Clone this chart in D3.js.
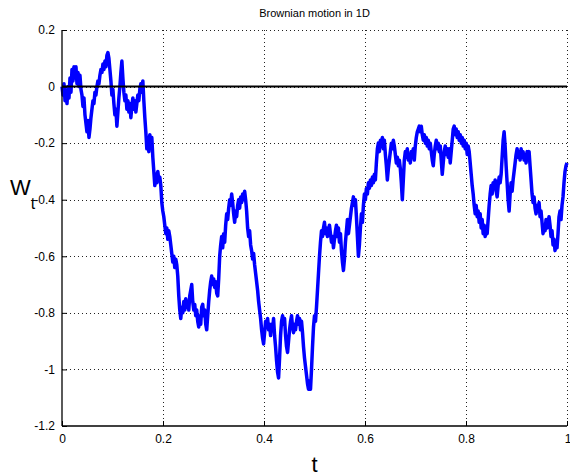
<!DOCTYPE html>
<html lang="en">
<head>
  <meta charset="UTF-8">
  <title>Brownian motion in 1D</title>
  <style>
    body { margin: 0; background: #fff; }
    text { font-family: "Liberation Sans", Arial, sans-serif; }
  </style>
</head>
<body>
  <svg width="570" height="476"></svg>

  <script src="https://d3js.org/d3.v7.min.js"></script>
  <script>
    // W(t), one sample per step (t runs 0..1 evenly)
    const W = [
      0.00,-0.03,0.01,-0.05,-0.02,-0.06,0.00,-0.04,0.03,-0.02,0.06,0.02,0.07,0.03,0.07,0.01,0.05,0.00,0.04,-0.01,
      -0.03,-0.07,-0.04,-0.10,-0.13,-0.16,-0.12,-0.18,-0.15,-0.11,-0.08,-0.05,-0.06,-0.02,-0.03,0.00,0.02,0.01,0.04,0.06,
      0.05,0.08,0.06,0.09,0.07,0.11,0.12,0.10,0.06,0.02,-0.03,-0.01,-0.06,-0.10,-0.08,-0.14,-0.09,-0.04,0.00,0.05,
      0.09,0.03,-0.02,-0.05,-0.03,-0.08,-0.05,-0.09,-0.06,-0.11,-0.07,-0.04,-0.08,-0.05,-0.09,-0.06,-0.03,-0.05,-0.01,0.01,
      -0.02,0.02,-0.05,-0.11,-0.16,-0.22,-0.18,-0.23,-0.17,-0.20,-0.18,-0.25,-0.30,-0.35,-0.31,-0.34,-0.30,-0.33,-0.32,-0.35,
      -0.41,-0.44,-0.46,-0.49,-0.52,-0.50,-0.54,-0.51,-0.53,-0.56,-0.59,-0.62,-0.60,-0.64,-0.61,-0.63,-0.67,-0.74,-0.79,-0.82,
      -0.78,-0.80,-0.76,-0.79,-0.75,-0.78,-0.76,-0.79,-0.74,-0.72,-0.70,-0.76,-0.79,-0.77,-0.81,-0.79,-0.83,-0.85,-0.81,-0.84,
      -0.78,-0.77,-0.81,-0.79,-0.84,-0.86,-0.81,-0.76,-0.72,-0.69,-0.67,-0.70,-0.68,-0.71,-0.69,-0.73,-0.74,-0.68,-0.60,-0.56,
      -0.53,-0.57,-0.52,-0.55,-0.49,-0.45,-0.47,-0.43,-0.40,-0.42,-0.38,-0.41,-0.45,-0.48,-0.44,-0.46,-0.42,-0.40,-0.43,-0.39,
      -0.41,-0.38,-0.40,-0.37,-0.40,-0.44,-0.50,-0.53,-0.51,-0.56,-0.58,-0.61,-0.59,-0.63,-0.66,-0.69,-0.72,-0.76,-0.79,-0.82,
      -0.86,-0.89,-0.91,-0.87,-0.83,-0.85,-0.82,-0.86,-0.84,-0.88,-0.84,-0.86,-0.82,-0.88,-0.92,-0.97,-1.01,-1.03,-0.96,-0.88,
      -0.83,-0.81,-0.84,-0.82,-0.88,-0.92,-0.94,-0.90,-0.86,-0.83,-0.81,-0.85,-0.87,-0.84,-0.86,-0.83,-0.81,-0.84,-0.82,-0.86,
      -0.83,-0.87,-0.92,-0.96,-0.99,-1.02,-1.05,-1.07,-1.04,-1.07,-1.00,-0.92,-0.85,-0.81,-0.83,-0.78,-0.72,-0.66,-0.60,-0.55,
      -0.51,-0.53,-0.50,-0.48,-0.52,-0.50,-0.53,-0.51,-0.49,-0.52,-0.55,-0.53,-0.57,-0.54,-0.51,-0.49,-0.53,-0.50,-0.55,-0.52,
      -0.58,-0.62,-0.65,-0.61,-0.55,-0.51,-0.47,-0.52,-0.49,-0.46,-0.43,-0.41,-0.39,-0.42,-0.40,-0.46,-0.53,-0.60,-0.56,-0.50,
      -0.45,-0.48,-0.42,-0.38,-0.40,-0.36,-0.38,-0.34,-0.36,-0.33,-0.35,-0.32,-0.34,-0.31,-0.33,-0.27,-0.22,-0.20,-0.23,-0.19,
      -0.21,-0.18,-0.22,-0.19,-0.24,-0.28,-0.33,-0.29,-0.26,-0.23,-0.20,-0.22,-0.19,-0.21,-0.24,-0.27,-0.25,-0.28,-0.26,-0.29,
      -0.34,-0.40,-0.33,-0.26,-0.23,-0.25,-0.22,-0.26,-0.24,-0.27,-0.23,-0.25,-0.22,-0.26,-0.21,-0.18,-0.16,-0.15,-0.14,-0.16,
      -0.14,-0.17,-0.19,-0.17,-0.20,-0.18,-0.21,-0.19,-0.22,-0.20,-0.23,-0.26,-0.28,-0.24,-0.21,-0.19,-0.22,-0.20,-0.23,-0.21,
      -0.26,-0.31,-0.27,-0.23,-0.21,-0.24,-0.22,-0.25,-0.22,-0.27,-0.23,-0.19,-0.15,-0.14,-0.17,-0.15,-0.18,-0.16,-0.19,-0.17,
      -0.20,-0.18,-0.21,-0.19,-0.22,-0.20,-0.24,-0.21,-0.23,-0.27,-0.31,-0.35,-0.38,-0.42,-0.45,-0.42,-0.46,-0.44,-0.48,-0.45,
      -0.50,-0.47,-0.52,-0.49,-0.53,-0.50,-0.52,-0.47,-0.42,-0.38,-0.35,-0.38,-0.34,-0.36,-0.33,-0.37,-0.39,-0.35,-0.32,-0.34,
      -0.31,-0.25,-0.19,-0.16,-0.21,-0.28,-0.34,-0.40,-0.44,-0.38,-0.34,-0.37,-0.33,-0.30,-0.27,-0.24,-0.22,-0.25,-0.23,-0.26,
      -0.22,-0.25,-0.23,-0.26,-0.24,-0.27,-0.23,-0.25,-0.23,-0.28,-0.33,-0.38,-0.41,-0.39,-0.43,-0.45,-0.42,-0.44,-0.41,-0.46,
      -0.44,-0.48,-0.52,-0.49,-0.51,-0.47,-0.50,-0.48,-0.46,-0.49,-0.53,-0.51,-0.56,-0.54,-0.58,-0.55,-0.57,-0.52,-0.46,-0.44,
      -0.47,-0.42,-0.39,-0.34,-0.30,-0.28,-0.27
    ];

    const xTicks = [0, 0.2, 0.4, 0.6, 0.8, 1];
    const yTicks = [0.2, 0, -0.2, -0.4, -0.6, -0.8, -1, -1.2];

    const svg = d3.select("svg");
    const m = { left: 62, right: 3, top: 30, bottom: 50 };
    const width = +svg.attr("width"), height = +svg.attr("height");

    const x = d3.scaleLinear().domain([0, 1]).range([m.left, width - m.right]);
    const y = d3.scaleLinear().domain([-1.2, 0.2]).range([height - m.bottom, m.top]);

    const nSteps = W.length - 1;
    const pts = W.map((w, i) => [i / nSteps, w]);

    // dotted grid
    const grid = svg.append("g").attr("stroke", "#222").attr("stroke-width", 1)
      .attr("stroke-dasharray", "1,3").attr("shape-rendering", "crispEdges");
    grid.selectAll(".gx").data(xTicks.slice(1)).join("line")
      .attr("x1", d => Math.round(x(d)) + 0.5).attr("x2", d => Math.round(x(d)) + 0.5)
      .attr("y1", y(0.2)).attr("y2", y(-1.2));
    grid.selectAll(".gy").data(yTicks.slice(0, -1)).join("line")
      .attr("x1", x(0)).attr("x2", x(1))
      .attr("y1", d => Math.round(y(d)) + 0.5).attr("y2", d => Math.round(y(d)) + 0.5);

    // the path
    svg.append("path")
      .datum(pts)
      .attr("fill", "none")
      .attr("stroke", "#0000ff")
      .attr("stroke-width", 3.5)
      .attr("stroke-linejoin", "round")
      .attr("d", d3.line().x(d => x(d[0])).y(d => y(d[1])));

    // zero line
    svg.append("line")
      .attr("x1", x(0)).attr("x2", x(1))
      .attr("y1", y(0)).attr("y2", y(0))
      .attr("stroke", "#000").attr("stroke-width", 2);

    // axes, ticks inward
    const xAxis = svg.append("g")
      .attr("transform", `translate(0,${y(-1.2)})`)
      .call(d3.axisBottom(x).tickValues(xTicks).tickSize(-5).tickPadding(8)
        .tickFormat(d3.format("~g")));
    const yAxis = svg.append("g")
      .attr("transform", `translate(${x(0)},0)`)
      .call(d3.axisLeft(y).tickValues(yTicks).tickSize(-5).tickPadding(7)
        .tickFormat(d3.format("~g")));

    [xAxis, yAxis].forEach(g => {
      g.select(".domain").attr("stroke", "#000").attr("stroke-width", 1.3);
      g.selectAll(".tick line").attr("stroke", "#000");
      g.selectAll(".tick text").attr("font-size", 12).attr("fill", "#000")
        .style("font-family", "'Liberation Sans', Arial, sans-serif");
    });
    // plain hyphen for minus, as in the original
    yAxis.selectAll(".tick text").text(d => String(d));
    // last x label sits at the window edge
    xAxis.selectAll(".tick text").filter(d => d === 1).attr("text-anchor", "end").attr("dx", 4);
    xAxis.select(".domain").attr("d", `M${x(0)},0H${x(1)}`);
    yAxis.select(".domain").attr("d", `M0,${y(0.2)}V${y(-1.2)}`);

    // title
    svg.append("text")
      .attr("x", (x(0) + x(1)) / 2).attr("y", 17)
      .attr("text-anchor", "middle").attr("font-size", 11)
      .text("Brownian motion in 1D");

    // axis labels
    const yl = svg.append("text").attr("x", 10).attr("y", 195).attr("font-size", 22);
    yl.append("tspan").text("W");
    yl.append("tspan").attr("font-size", 16).attr("dy", 14).text("t");

    svg.append("text")
      .attr("x", (x(0) + x(1)) / 2).attr("y", 472)
      .attr("text-anchor", "middle").attr("font-size", 22)
      .text("t");
  </script>
</body>
</html>
